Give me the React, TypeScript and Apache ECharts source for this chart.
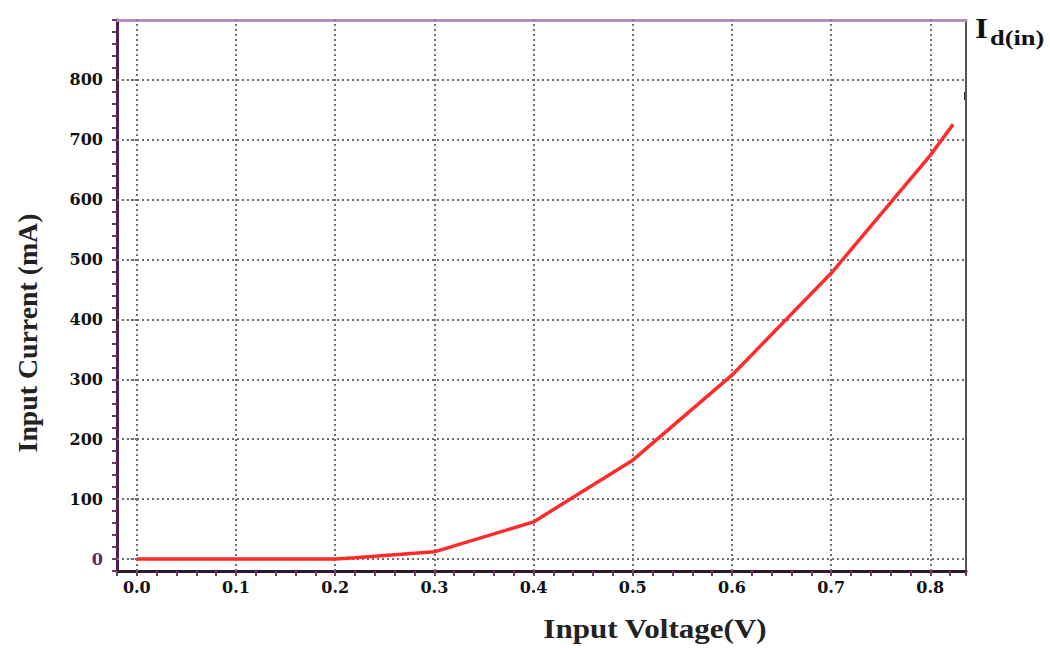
import React, { useEffect, useRef } from "react";
import * as echarts from "echarts";

// Data
const voltage = [0, 0.1, 0.2, 0.22, 0.3, 0.4, 0.5, 0.6, 0.7, 0.8, 0.823];
const current = [0, 0, 0, 2, 12, 62, 165, 307, 477, 674, 726];
const xTicks = [0, 0.1, 0.2, 0.3, 0.4, 0.5, 0.6, 0.7, 0.8];
const yTicks = [0, 100, 200, 300, 400, 500, 600, 700, 800];
const xTitle = "Input Voltage(V)";
const yTitle = "Input Current (mA)";
const cornerMain = "I";
const cornerSub = "d(in)";

const FONT = "'Liberation Serif', 'Times New Roman', serif";
const TICKFONT = "'DejaVu Serif', serif";

const isMult = (v: number, step: number) =>
  Math.abs(v / step - Math.round(v / step)) < 1e-6;

export default function App() {
  const ref = useRef<HTMLDivElement>(null);
  useEffect(() => {
    if (!ref.current) return;
    const chart = echarts.init(ref.current, undefined, { renderer: "svg" });
    const gridStyle = { color: "#6e6e6e", width: 2, type: [2, 3] as number[] };
    const option: any = {
      animation: false,
      backgroundColor: "#ffffff",
      grid: { left: 117, right: 84, top: 20, bottom: 77, containLabel: false },
      xAxis: [
        {
          type: "value",
          min: -0.02,
          max: 0.836,
          interval: 0.02,
          axisLine: { show: true, onZero: false, lineStyle: { color: "#2a1a2a", width: 3 } },
          axisTick: { show: true, inside: false, length: 5, lineStyle: { color: "#6b3a6b", width: 2 } },
          axisLabel: {
            margin: 8,
            fontFamily: TICKFONT,
            fontWeight: "bold",
            fontSize: 16,
            color: "#111",
            formatter: (v: number) => (v >= 0 && isMult(v, 0.1) ? v.toFixed(1) : ""),
          },
          splitLine: { show: false },
        },
        {
          type: "value",
          position: "top",
          min: -0.02,
          max: 0.836,
          axisLine: { show: true, onZero: false, lineStyle: { color: "#b48fbe", width: 3 } },
          axisTick: { show: false },
          axisLabel: { show: false },
          splitLine: { show: false },
        },
      ],
      yAxis: [
        {
          type: "value",
          min: -20,
          max: 900,
          interval: 20,
          axisLine: { show: true, onZero: false, lineStyle: { color: "#4a1f4a", width: 3 } },
          axisTick: { show: true, inside: false, length: 5, lineStyle: { color: "#6b3a6b", width: 2 } },
          axisLabel: {
            margin: 14,
            fontFamily: TICKFONT,
            fontWeight: "bold",
            fontSize: 16,
            color: "#111",
            formatter: (v: number) => {
              if (v < 0 || v > 800 || !isMult(v, 100)) return "";
              return v === 0 ? "{p|0}" : String(v);
            },
            rich: {
              p: { color: "#5a2a6a", fontFamily: TICKFONT, fontWeight: "bold", fontSize: 16 },
            },
          },
          splitLine: { show: false },
        },
        {
          type: "value",
          position: "left",
          min: -20,
          max: 900,
          axisLine: { show: false },
          axisTick: {
            show: true,
            inside: false,
            length: 12,
            customValues: yTicks,
            lineStyle: { color: "#7a5a80", width: 2, type: [2, 2] },
          },
          axisLabel: { show: false },
          splitLine: { show: false },
        },
        {
          type: "value",
          position: "right",
          min: -20,
          max: 900,
          axisLine: { show: true, onZero: false, lineStyle: { color: "#555", width: 2 } },
          axisTick: { show: false },
          axisLabel: { show: false },
          splitLine: { show: false },
        },
      ],
      series: [
        {
          type: "line",
          xAxisIndex: 0,
          yAxisIndex: 0,
          z: 1,
          data: [[0, 0]],
          symbol: "none",
          lineStyle: { opacity: 0 },
          silent: true,
          markLine: {
            silent: true,
            symbol: ["none", "none"],
            label: { show: false },
            lineStyle: gridStyle,
            emphasis: { disabled: true },
            data: [
              ...xTicks.map((v) => ({ xAxis: v })),
              ...yTicks.map((v) => ({ yAxis: v })),
            ],
          },
        },
        {
          type: "line",
          xAxisIndex: 0,
          yAxisIndex: 0,
          z: 5,
          data: voltage.map((v, i) => [v, current[i]]),
          symbol: "none",
          lineStyle: { color: "#ff2b2b", width: 3.5 },
        },
      ],
      graphic: [
        {
          type: "text",
          x: 655,
          y: 629,
          scaleX: 1.15,
          style: {
            text: xTitle,
            font: `bold 27px ${FONT}`,
            fill: "#222",
            align: "center",
            verticalAlign: "middle",
          },
        },
        {
          type: "text",
          x: 28,
          y: 333,
          rotation: Math.PI / 2,
          scaleX: 1.03,
          style: {
            text: yTitle,
            font: `bold 27px ${FONT}`,
            fill: "#222",
            align: "center",
            verticalAlign: "middle",
          },
        },
        {
          type: "text",
          x: 975,
          y: 28,
          scaleX: 1.1,
          style: {
            text: cornerMain,
            font: `bold 30px ${FONT}`,
            fill: "#111",
            align: "left",
            verticalAlign: "middle",
          },
        },
        {
          type: "text",
          x: 990,
          y: 37,
          scaleX: 1.2,
          style: {
            text: cornerSub,
            font: `bold 22px ${FONT}`,
            fill: "#111",
            align: "left",
            verticalAlign: "middle",
          },
        },
        {
          type: "rect",
          shape: { x: 964, y: 92, width: 3, height: 8 },
          style: { fill: "#333" },
        },
      ],
    };
    chart.setOption(option);
    return () => chart.dispose();
  }, []);
  return (
    <div
      ref={ref}
      style={{ position: "absolute", left: 0, top: 0, width: 1050, height: 648 }}
    />
  );
}
